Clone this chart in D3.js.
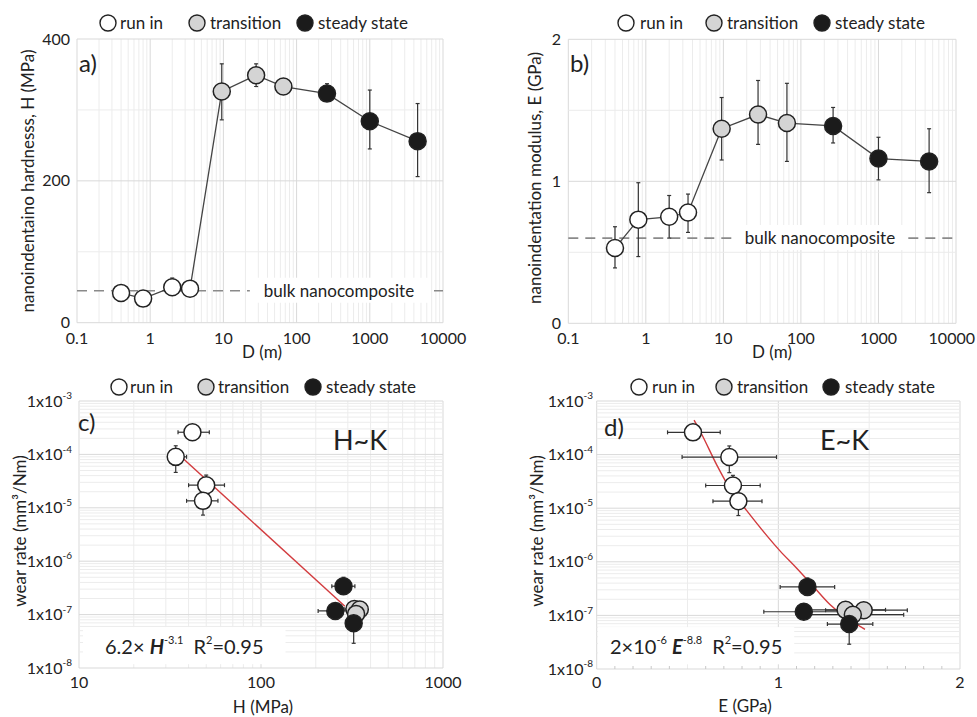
<!DOCTYPE html>
<html><head><meta charset="utf-8">
<script src="https://cdn.jsdelivr.net/npm/d3@7"></script>
<style>
body{margin:0;background:#fff;}
svg text{font-family:Lato,"Open Sans",sans-serif;fill:#222;}
</style></head><body>
<svg id="chart" width="977" height="717"></svg>
<script>
// ---------- data ----------
const stageNames = ["run in", "transition", "steady state"];
const stageFill = ["#ffffff", "#d4d4d4", "#1b1b1b"];
const sampleStage = [0, 0, 0, 0, 1, 1, 1, 2, 2, 2];
const slidingDistance = [0.4, 0.8, 2.0, 3.5, 9.5, 28, 66, 260, 1000, 4500];
const hardness = [42, 34, 50, 48, 326, 349, 333, 323, 284, 256];
const hardnessLow = [35, 31, 40, 39, 286, 333, 328, 313, 245, 206];
const hardnessHigh = [52, 39, 63, 58, 365, 365, 338, 337, 328, 309];
const modulus = [0.53, 0.73, 0.75, 0.78, 1.37, 1.47, 1.41, 1.39, 1.16, 1.14];
const modulusLow = [0.39, 0.47, 0.60, 0.64, 1.15, 1.26, 1.14, 1.27, 1.01, 0.92];
const modulusHigh = [0.68, 0.99, 0.90, 0.91, 1.59, 1.71, 1.69, 1.52, 1.31, 1.37];
const wearRate = [2.6e-4, 9.0e-5, 2.65e-5, 1.35e-5, 1.27e-7, 1.25e-7, 1.03e-7, 6.9e-8, 3.4e-7, 1.17e-7];
const wearLow = [2.3e-4, 4.6e-5, 1.7e-5, 7.3e-6, 1.1e-7, 1.1e-7, 0.9e-7, 2.9e-8, 2.4e-7, 1.0e-7];
const wearHigh = [2.9e-4, 1.45e-4, 4.1e-5, 1.9e-5, 1.45e-7, 1.4e-7, 1.15e-7, 1.0e-7, 5.0e-7, 1.35e-7];
const bulkHardness = 45;
const bulkModulus = 0.6;
const fitHardness = [37.3, 289];
const fitWearH = [8.4e-5, 1.43e-7];
const fitModulus = [0.536, 0.578, 0.660, 0.734, 0.826, 0.917, 1.009, 1.101, 1.192, 1.284, 1.477];
const fitWearE = [4.4e-4, 2.4e-4, 6.5e-5, 2.3e-5, 9.0e-6, 3.7e-6, 1.6e-6, 7.6e-7, 3.5e-7, 1.6e-7, 5.5e-8];
const distTicks = [0.1, 1, 10, 100, 1000, 10000];
const distTickLabels = ["0.1", "1", "10", "100", "1000", "10000"];
const hardTicks = [0, 200, 400];
const hardGrid = [100, 200, 300, 400];
const modTicks = [0, 1, 2];
const modGrid = [0.5, 1, 1.5, 2];
const wearTicks = [1e-8, 1e-7, 1e-6, 1e-5, 1e-4, 1e-3];
const wearTickExp = ["-8", "-7", "-6", "-5", "-4", "-3"];
const hLogTicks = [10, 100, 1000];
const eLinTicks = [0, 1, 2];
const eGrid = [0.5, 1, 1.5, 2];
const eMinor = [0.1,0.2,0.3,0.4,0.6,0.7,0.8,0.9,1.1,1.2,1.3,1.4,1.6,1.7,1.8,1.9];

// ---------- helpers ----------
const svg = d3.select("#chart");
const INK = "#222";
const MINOR = "#ececec", MAJOR = "#d9d9d9";
const isDecade = v => Math.abs(Math.log10(v) - Math.round(Math.log10(v))) < 1e-6;

function vgrid(g, x, y, vals, majorFn) {
  const [yb, yt] = y.range();
  g.append("g").selectAll("line").data(vals).join("line")
    .attr("x1", d => x(d)).attr("x2", d => x(d)).attr("y1", yb).attr("y2", yt)
    .attr("stroke", d => majorFn(d) ? MAJOR : MINOR).attr("stroke-width", 1);
}
function hgrid(g, x, y, vals, majorFn) {
  const [xl, xr] = x.range();
  g.append("g").selectAll("line").data(vals).join("line")
    .attr("y1", d => y(d)).attr("y2", d => y(d)).attr("x1", xl).attr("x2", xr)
    .attr("stroke", d => majorFn(d) ? MAJOR : MINOR).attr("stroke-width", 1);
}
function legend(cx, cy, tx) {
  stageNames.forEach((s, i) => {
    svg.append("circle").attr("cx", cx[i]).attr("cy", cy).attr("r", 8)
      .attr("fill", stageFill[i]).attr("stroke", INK).attr("stroke-width", 1.4);
    svg.append("text").attr("x", tx[i]).attr("y", cy).attr("dy", "0.35em")
      .attr("font-size", 17).text(s);
  });
}
function labelBox(textSel, padX, padY) {
  const b = textSel.node().getBBox();
  d3.select(textSel.node().parentNode).insert("rect", () => textSel.node())
    .attr("x", b.x - padX).attr("y", b.y - padY).attr("width", b.width + 2 * padX)
    .attr("height", b.height + 2 * padY).attr("fill", "#fff");
}
function errV(g, x, y, xv, lo, hi) {
  const gg = g.append("g").attr("stroke", "#333").attr("stroke-width", 1.2);
  xv.forEach((v, i) => {
    const X = x(v), a = y(lo[i]), b = y(hi[i]);
    gg.append("line").attr("x1", X).attr("x2", X).attr("y1", a).attr("y2", b);
    gg.append("line").attr("x1", X - 2).attr("x2", X + 2).attr("y1", a).attr("y2", a);
    gg.append("line").attr("x1", X - 2).attr("x2", X + 2).attr("y1", b).attr("y2", b);
  });
}
function errH(g, x, y, yv, lo, hi) {
  const gg = g.append("g").attr("stroke", "#333").attr("stroke-width", 1.2);
  yv.forEach((v, i) => {
    const Y = y(v), a = x(lo[i]), b = x(hi[i]);
    gg.append("line").attr("y1", Y).attr("y2", Y).attr("x1", a).attr("x2", b);
    gg.append("line").attr("y1", Y - 2).attr("y2", Y + 2).attr("x1", a).attr("x2", a);
    gg.append("line").attr("y1", Y - 2).attr("y2", Y + 2).attr("x1", b).attr("x2", b);
  });
}
function points(g, x, y, xv, yv) {
  const idx = d3.range(xv.length).sort((a, b) => sampleStage[a] - sampleStage[b]);
  g.append("g").selectAll("circle").data(idx).join("circle")
    .attr("cx", i => x(xv[i])).attr("cy", i => y(yv[i])).attr("r", 8.5)
    .attr("fill", i => stageFill[sampleStage[i]]).attr("stroke", INK).attr("stroke-width", 1.5);
}
function yTitle(x, y, txt) {
  svg.append("text").attr("transform", `translate(${x},${y}) rotate(-90)`)
    .attr("text-anchor", "middle").attr("dy", "0.35em").attr("font-size", 17).text(txt);
}
function xTitle(x, y, txt) {
  svg.append("text").attr("x", x).attr("y", y).attr("text-anchor", "middle")
    .attr("font-size", 17).text(txt);
}

// ---------- panel a ----------
{
  const g = svg.append("g");
  const x = d3.scaleLog().domain([0.1, 10000]).range([77, 443]);
  const y = d3.scaleLinear().domain([0, 400]).range([322.7, 39]);
  vgrid(g, x, y, x.ticks(), isDecade);
  hgrid(g, x, y, [0].concat(hardGrid), d => d % 200 === 0);
  g.append("line").attr("x1", x(0.1)).attr("x2", x(10000)).attr("y1", y(bulkHardness)).attr("y2", y(bulkHardness))
    .attr("stroke", "#8a8a8a").attr("stroke-width", 1.6).attr("stroke-dasharray", "10,7");
  const bt = g.append("text").attr("x", 339).attr("y", y(bulkHardness)).attr("dy", "0.35em")
    .attr("text-anchor", "middle").attr("font-size", 17).text("bulk nanocomposite");
  labelBox(bt, 14, 2);
  g.append("path").datum(d3.range(slidingDistance.length))
    .attr("d", d3.line().x(i => x(slidingDistance[i])).y(i => y(hardness[i])))
    .attr("fill", "none").attr("stroke", "#444").attr("stroke-width", 1.3);
  errV(g, x, y, slidingDistance, hardnessLow, hardnessHigh);
  points(g, x, y, slidingDistance, hardness);
  g.selectAll(".xt").data(distTicks).join("text").attr("class", "xt")
    .attr("x", d => x(d)).attr("y", 344).attr("text-anchor", "middle").attr("font-size", 16)
    .text((d, i) => distTickLabels[i]);
  g.selectAll(".yt").data(hardTicks).join("text").attr("class", "yt")
    .attr("x", 70).attr("y", d => y(d)).attr("dy", "0.35em").attr("text-anchor", "end").attr("font-size", 16)
    .text(d => d);
  g.append("text").attr("x", 79).attr("y", 72).attr("font-size", 24).text("a)");
  legend([108, 197, 305], 23, [120, 210, 318]);
  yTitle(28, 181, "nanoindentaino hardnesss, H (MPa)");
  xTitle(262, 358, "D (m)");
}

// ---------- panel b ----------
{
  const g = svg.append("g");
  const x = d3.scaleLog().domain([0.1, 10000]).range([568.3, 956]);
  const y = d3.scaleLinear().domain([0, 2]).range([323.3, 39.3]);
  vgrid(g, x, y, x.ticks(), isDecade);
  hgrid(g, x, y, [0].concat(modGrid), d => d === 1 || d === 2 || d === 0);
  g.append("line").attr("x1", x(0.1)).attr("x2", x(10000)).attr("y1", y(bulkModulus)).attr("y2", y(bulkModulus))
    .attr("stroke", "#8a8a8a").attr("stroke-width", 1.6).attr("stroke-dasharray", "10,7");
  const bt = g.append("text").attr("x", 820).attr("y", y(bulkModulus)).attr("dy", "0.35em")
    .attr("text-anchor", "middle").attr("font-size", 17).text("bulk nanocomposite");
  labelBox(bt, 10, 2);
  g.append("path").datum(d3.range(slidingDistance.length))
    .attr("d", d3.line().x(i => x(slidingDistance[i])).y(i => y(modulus[i])))
    .attr("fill", "none").attr("stroke", "#444").attr("stroke-width", 1.3);
  errV(g, x, y, slidingDistance, modulusLow, modulusHigh);
  points(g, x, y, slidingDistance, modulus);
  g.selectAll(".xt").data(distTicks).join("text").attr("class", "xt")
    .attr("x", (d, i) => i === distTicks.length - 1 ? 975 : x(d)).attr("y", 344)
    .attr("text-anchor", (d, i) => i === distTicks.length - 1 ? "end" : "middle").attr("font-size", 16)
    .text((d, i) => distTickLabels[i]);
  g.selectAll(".yt").data(modTicks).join("text").attr("class", "yt")
    .attr("x", 561).attr("y", d => y(d)).attr("dy", "0.35em").attr("text-anchor", "end").attr("font-size", 16)
    .text(d => d);
  g.append("text").attr("x", 570).attr("y", 72).attr("font-size", 24).text("b)");
  legend([626, 714, 822], 23, [640, 727, 835]);
  yTitle(535, 178, "nanoindentation modulus, E (GPa)");
  xTitle(772, 358, "D (m)");
}

function wearYAxis(g, y, xr) {
  wearTicks.forEach((t, i) => {
    const tx = g.append("text").attr("x", xr).attr("y", y(t)).attr("dy", "0.35em")
      .attr("text-anchor", "end").attr("font-size", 16);
    tx.append("tspan").text("1x10");
    tx.append("tspan").attr("font-size", 10).attr("dy", "-0.75em").text(wearTickExp[i]);
  });
}

// ---------- panel c ----------
{
  const g = svg.append("g");
  const x = d3.scaleLog().domain([10, 1000]).range([79, 443]);
  const y = d3.scaleLog().domain([1e-8, 1e-3]).range([668, 401]);
  vgrid(g, x, y, x.ticks(), isDecade);
  hgrid(g, x, y, y.ticks(), isDecade);
  const ft = g.append("text").attr("x", 105).attr("y", 654).attr("font-size", 20);
  ft.append("tspan").text("6.2× ");
  ft.append("tspan").attr("font-weight", "bold").attr("font-style", "italic").text("H");
  ft.append("tspan").attr("font-size", 11).attr("dy", "-0.9em").text("-3.1");
  ft.append("tspan").attr("dy", "0.5em").text("\u2002R");
  ft.append("tspan").attr("font-size", 11).attr("dy", "-0.9em").text("2");
  ft.append("tspan").attr("dy", "0.5em").text("=0.95");
  labelBox(ft, 22, 6);
  g.append("text").attr("x", 333).attr("y", 450).attr("font-size", 27).text("H~K");
  g.append("path").datum(d3.range(fitHardness.length))
    .attr("d", d3.line().x(i => x(fitHardness[i])).y(i => y(fitWearH[i])))
    .attr("fill", "none").attr("stroke", "#d23b3e").attr("stroke-width", 1.4);
  errV(g, x, y, hardness, wearLow, wearHigh);
  errH(g, x, y, wearRate, hardnessLow, hardnessHigh);
  points(g, x, y, hardness, wearRate);
  wearYAxis(g, y, 72);
  g.selectAll(".xt").data(hLogTicks).join("text").attr("class", "xt")
    .attr("x", d => x(d)).attr("y", 688).attr("text-anchor", "middle").attr("font-size", 16).text(d => d);
  g.append("text").attr("x", 78).attr("y", 431).attr("font-size", 24).text("c)");
  legend([119, 206, 313], 387, [130, 218, 326]);
  yTitle(20, 531, "wear rate (mm³/Nm)");
  xTitle(263, 713, "H (MPa)");
}

// ---------- panel d ----------
{
  const g = svg.append("g");
  const x = d3.scaleLinear().domain([0, 2]).range([596.7, 960]);
  const y = d3.scaleLog().domain([1e-8, 1e-3]).range([669, 401]);
  vgrid(g, x, y, [0].concat(eGrid), d => d === 1 || d === 2 || d === 0);
  hgrid(g, x, y, y.ticks(), isDecade);
  g.append("g").selectAll("line").data(eMinor).join("line")
    .attr("x1", d => x(d)).attr("x2", d => x(d)).attr("y1", y(1e-8)).attr("y2", y(1e-8) - 3)
    .attr("stroke", "#c8c8c8");
  const ft = g.append("text").attr("x", 610).attr("y", 654).attr("font-size", 20);
  ft.append("tspan").text("2×10");
  ft.append("tspan").attr("font-size", 11).attr("dy", "-0.9em").text("-6");
  ft.append("tspan").attr("dy", "0.5em").text(" ");
  ft.append("tspan").attr("font-weight", "bold").attr("font-style", "italic").text("E");
  ft.append("tspan").attr("font-size", 11).attr("dy", "-0.9em").text("-8.8");
  ft.append("tspan").attr("dy", "0.5em").text("\u2002R");
  ft.append("tspan").attr("font-size", 11).attr("dy", "-0.9em").text("2");
  ft.append("tspan").attr("dy", "0.5em").text("=0.95");
  labelBox(ft, 12, 6);
  g.append("text").attr("x", 820).attr("y", 450).attr("font-size", 27).text("E~K");
  g.append("path").datum(d3.range(fitModulus.length))
    .attr("d", d3.line().curve(d3.curveMonotoneX).x(i => x(fitModulus[i])).y(i => y(fitWearE[i])))
    .attr("fill", "none").attr("stroke", "#d23b3e").attr("stroke-width", 1.4);
  errV(g, x, y, modulus, wearLow, wearHigh);
  errH(g, x, y, wearRate, modulusLow, modulusHigh);
  points(g, x, y, modulus, wearRate);
  wearYAxis(g, y, 593);
  g.selectAll(".xt").data(eLinTicks).join("text").attr("class", "xt")
    .attr("x", d => x(d)).attr("y", 688).attr("text-anchor", "middle").attr("font-size", 16).text(d => d);
  g.append("text").attr("x", 604).attr("y", 436).attr("font-size", 24).text("d)");
  legend([639, 724, 831], 387, [652, 737, 845]);
  yTitle(537, 531, "wear rate (mm³/Nm)");
  xTitle(745, 712, "E (GPa)");
}
</script>
</body></html>
